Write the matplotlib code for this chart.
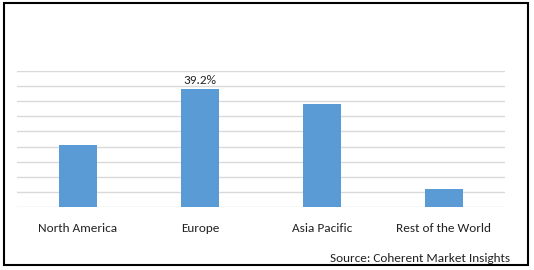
import matplotlib

matplotlib.use("Agg")

import matplotlib.pyplot as plt  # noqa: E402
from matplotlib.patches import Rectangle  # noqa: E402

regions = ["North America", "Europe", "Asia Pacific", "Rest of the World"]
share = [20.5, 39.2, 34.1, 6.0]
labelled = {1: "39.2%"}

BAR_COLOR = "#5b9bd5"
GRID_COLOR = "#d9d9d9"
FONT = ["Carlito", "Lato", "DejaVu Sans"]

W, H = 534, 270
fig = plt.figure(figsize=(W / 100, H / 100), dpi=100)
ax = fig.add_axes([17 / W, (H - 207) / H, 488 / W, (207 - 71) / H])

x = list(range(len(regions)))
ax.bar(x, share, width=0.315, color=BAR_COLOR, zorder=3)
for i, txt in labelled.items():
    ax.text(i, share[i] + 1.0, txt, ha="center", va="bottom",
            fontsize=9.5, family=FONT, color="#222222")

ax.set_xlim(-0.5, len(regions) - 0.5)
ax.set_ylim(0, 45)
ax.set_yticks(range(0, 46, 5))
ax.yaxis.grid(True, color=GRID_COLOR, linewidth=1.0, zorder=0)
ax.tick_params(axis="y", left=False, labelleft=False)
ax.tick_params(axis="x", bottom=False, pad=8)
ax.set_xticks(x)
ax.set_xticklabels(regions, fontsize=9.5, family=FONT, color="#222222")
for s in ax.spines.values():
    s.set_visible(False)

fig.text(510 / W, (H - 258) / H, "Source: Coherent Market Insights",
         ha="right", va="center", fontsize=9.5, family=FONT, color="#222222")

fig.patches.append(Rectangle((4 / W, (H - 265) / H), 524 / W, 262 / H,
                             transform=fig.transFigure, fill=False,
                             edgecolor="black", linewidth=1.5))

fig.savefig("out.png", dpi=100)
